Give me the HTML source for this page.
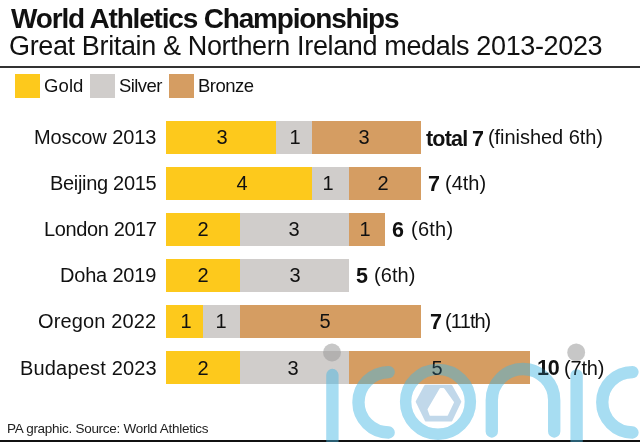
<!DOCTYPE html>
<html><head><meta charset="utf-8">
<style>
html,body{margin:0;padding:0;background:#fff;}
body{width:640px;height:442px;position:relative;overflow:hidden;font-family:"Liberation Sans",sans-serif;color:#111;}
.t{position:absolute;white-space:nowrap;-webkit-font-smoothing:antialiased;will-change:transform;}
.r{position:absolute;}
</style></head><body>
<div class="r" style="left:0px;top:65.5px;width:640px;height:2px;background:#333"></div>
<div class="r" style="left:15px;top:74px;width:25px;height:24px;background:#fdc91c"></div>
<div class="r" style="left:90px;top:74px;width:25px;height:24px;background:#d0cdcb"></div>
<div class="r" style="left:169px;top:74px;width:25px;height:24px;background:#d59d62"></div>
<div class="r" style="left:166px;top:121px;width:110px;height:33px;background:#fdc91c"></div>
<div class="r" style="left:276px;top:121px;width:36px;height:33px;background:#d0cdcb"></div>
<div class="r" style="left:312px;top:121px;width:109px;height:33px;background:#d59d62"></div>
<div class="r" style="left:166px;top:167px;width:146px;height:33px;background:#fdc91c"></div>
<div class="r" style="left:312px;top:167px;width:37px;height:33px;background:#d0cdcb"></div>
<div class="r" style="left:349px;top:167px;width:72px;height:33px;background:#d59d62"></div>
<div class="r" style="left:166px;top:213px;width:74px;height:33px;background:#fdc91c"></div>
<div class="r" style="left:240px;top:213px;width:109px;height:33px;background:#d0cdcb"></div>
<div class="r" style="left:349px;top:213px;width:36px;height:33px;background:#d59d62"></div>
<div class="r" style="left:166px;top:259px;width:74px;height:33px;background:#fdc91c"></div>
<div class="r" style="left:240px;top:259px;width:109px;height:33px;background:#d0cdcb"></div>
<div class="r" style="left:166px;top:305px;width:37px;height:33px;background:#fdc91c"></div>
<div class="r" style="left:203px;top:305px;width:37px;height:33px;background:#d0cdcb"></div>
<div class="r" style="left:240px;top:305px;width:181px;height:33px;background:#d59d62"></div>
<div class="r" style="left:166px;top:351px;width:74px;height:33px;background:#fdc91c"></div>
<div class="r" style="left:240px;top:351px;width:109px;height:33px;background:#d0cdcb"></div>
<div class="r" style="left:349px;top:351px;width:181px;height:33px;background:#d59d62"></div>
<div class="r" style="left:0px;top:440px;width:640px;height:2px;background:#111"></div>
<svg width="640" height="442" style="position:absolute;left:0;top:0">
<g opacity="0.338" fill="none" stroke="rgb(70,183,228)" stroke-width="12.3" stroke-linecap="round"><path d="M332.4,375.0 L332.4,460"/><path d="M388.66,372.10 A30.2,30.2 0 1 0 388.66,432.50"/><path d="M491.8,431.5 L491.8,400.2 A31.2,31.2 0 0 1 554.20,400.20 L554.2,431.5"/><path d="M576.6,375.4 L576.6,460"/><path d="M632.46,372.10 A30.2,30.2 0 1 0 632.46,432.50"/><circle cx="438" cy="401.8" r="32.4" stroke-width="11.4"/></g>
<g opacity="0.45"><path d="M417.20,401.70 L425.60,386.30 L451.00,386.30 L459.80,401.70 L451.00,420.00 L426.20,420.00 Z" fill="rgb(120,170,210)" stroke="rgb(120,170,210)" stroke-width="3" stroke-linejoin="round"/></g>
<path d="M440.50,389.00 L443.50,389.00 L453.00,402.30 L447.00,414.80 L430.50,414.80 L428.50,409.50 Z" fill="#fff" stroke="#fff" stroke-width="2" stroke-linejoin="round"/>
<circle cx="332" cy="352.5" r="8.9" fill="rgb(157,157,157)" fill-opacity="0.45"/>
<circle cx="576.2" cy="352.4" r="8.9" fill="rgb(157,157,157)" fill-opacity="0.45"/>
</svg>
<div class="t" style="top:1.39px;font-size:28px;line-height:36px;font-weight:bold;letter-spacing:-1.18px;left:10.90px;">World Athletics Championships</div>
<div class="t" style="top:29.34px;font-size:27px;line-height:35px;letter-spacing:-0.36px;left:8.85px;">Great Britain &amp; Northern Ireland medals 2013-2023</div>
<div class="t" style="top:73.69px;font-size:18.5px;line-height:24px;letter-spacing:0.1px;left:43.60px;">Gold</div>
<div class="t" style="top:73.69px;font-size:18.5px;line-height:24px;letter-spacing:-0.58px;left:119.40px;">Silver</div>
<div class="t" style="top:73.69px;font-size:18.5px;line-height:24px;letter-spacing:-0.5px;left:198.10px;">Bronze</div>
<div class="t" style="top:123.67px;font-size:20px;line-height:26px;letter-spacing:-0.11px;right:483.60px;">Moscow 2013</div>
<div class="t" style="top:123.67px;font-size:20px;line-height:26px;left:192.20px;width:60px;text-align:center;">3</div>
<div class="t" style="top:123.67px;font-size:20px;line-height:26px;left:265.30px;width:60px;text-align:center;">1</div>
<div class="t" style="top:123.67px;font-size:20px;line-height:26px;left:333.60px;width:60px;text-align:center;">3</div>
<div class="t" style="top:125.15px;font-size:21.5px;line-height:28px;font-weight:bold;letter-spacing:-0.8px;left:426.00px;">total</div>
<div class="t" style="top:125.15px;font-size:21.5px;line-height:28px;font-weight:bold;left:471.50px;">7</div>
<div class="t" style="top:123.67px;font-size:20px;line-height:26px;letter-spacing:-0.05px;left:487.50px;">(finished 6th)</div>
<div class="t" style="top:169.84px;font-size:20px;line-height:26px;letter-spacing:-0.31px;right:483.60px;">Beijing 2015</div>
<div class="t" style="top:169.84px;font-size:20px;line-height:26px;left:211.60px;width:60px;text-align:center;">4</div>
<div class="t" style="top:169.84px;font-size:20px;line-height:26px;left:298.25px;width:60px;text-align:center;">1</div>
<div class="t" style="top:169.84px;font-size:20px;line-height:26px;left:353.40px;width:60px;text-align:center;">2</div>
<div class="t" style="top:170.32px;font-size:21.5px;line-height:28px;font-weight:bold;left:427.60px;">7</div>
<div class="t" style="top:169.84px;font-size:20px;line-height:26px;left:445.35px;">(4th)</div>
<div class="t" style="top:216.01px;font-size:20px;line-height:26px;letter-spacing:-0.38px;right:483.60px;">London 2017</div>
<div class="t" style="top:216.01px;font-size:20px;line-height:26px;left:172.50px;width:60px;text-align:center;">2</div>
<div class="t" style="top:216.01px;font-size:20px;line-height:26px;left:264.20px;width:60px;text-align:center;">3</div>
<div class="t" style="top:216.01px;font-size:20px;line-height:26px;left:334.70px;width:60px;text-align:center;">1</div>
<div class="t" style="top:216.49px;font-size:21.5px;line-height:28px;font-weight:bold;left:391.60px;">6</div>
<div class="t" style="top:216.01px;font-size:20px;line-height:26px;letter-spacing:0.25px;left:410.70px;">(6th)</div>
<div class="t" style="top:262.18px;font-size:20px;line-height:26px;letter-spacing:-0.19px;right:483.60px;">Doha 2019</div>
<div class="t" style="top:262.18px;font-size:20px;line-height:26px;left:172.50px;width:60px;text-align:center;">2</div>
<div class="t" style="top:262.18px;font-size:20px;line-height:26px;left:264.50px;width:60px;text-align:center;">3</div>
<div class="t" style="top:261.66px;font-size:21.5px;line-height:28px;font-weight:bold;left:356.00px;">5</div>
<div class="t" style="top:262.18px;font-size:20px;line-height:26px;letter-spacing:0.08px;left:373.90px;">(6th)</div>
<div class="t" style="top:308.35px;font-size:20px;line-height:26px;letter-spacing:0.13px;right:483.60px;">Oregon 2022</div>
<div class="t" style="top:308.35px;font-size:20px;line-height:26px;left:155.90px;width:60px;text-align:center;">1</div>
<div class="t" style="top:308.35px;font-size:20px;line-height:26px;left:190.70px;width:60px;text-align:center;">1</div>
<div class="t" style="top:308.35px;font-size:20px;line-height:26px;left:295.35px;width:60px;text-align:center;">5</div>
<div class="t" style="top:307.83px;font-size:21.5px;line-height:28px;font-weight:bold;left:430.35px;">7</div>
<div class="t" style="top:308.35px;font-size:20px;line-height:26px;letter-spacing:-1.0px;left:445.45px;">(<span style="letter-spacing:-2.0px">1</span>1th)</div>
<div class="t" style="top:354.52px;font-size:20px;line-height:26px;letter-spacing:0.175px;right:483.60px;">Budapest 2023</div>
<div class="t" style="top:354.52px;font-size:20px;line-height:26px;left:173.00px;width:60px;text-align:center;">2</div>
<div class="t" style="top:354.52px;font-size:20px;line-height:26px;left:262.70px;width:60px;text-align:center;">3</div>
<div class="t" style="top:354.52px;font-size:20px;line-height:26px;left:407.40px;width:60px;text-align:center;">5</div>
<div class="t" style="top:354.00px;font-size:21.5px;line-height:28px;font-weight:bold;letter-spacing:-1.2px;left:536.50px;">10</div>
<div class="t" style="top:354.52px;font-size:20px;line-height:26px;letter-spacing:-0.2px;left:563.50px;">(7th)</div>
<div class="t" style="top:419.82px;font-size:13.5px;line-height:18px;letter-spacing:-0.28px;color:#222;left:7.10px;">PA graphic. Source: World Athletics</div>
<svg width="640" height="442" style="position:absolute;left:0;top:0">
<g opacity="0.2" fill="none" stroke="rgb(70,183,228)" stroke-width="12.3" stroke-linecap="round"><path d="M332.4,375.0 L332.4,460"/><path d="M388.66,372.10 A30.2,30.2 0 1 0 388.66,432.50"/><path d="M491.8,431.5 L491.8,400.2 A31.2,31.2 0 0 1 554.20,400.20 L554.2,431.5"/><path d="M576.6,375.4 L576.6,460"/><path d="M632.46,372.10 A30.2,30.2 0 1 0 632.46,432.50"/><circle cx="438" cy="401.8" r="32.4" stroke-width="11.4"/></g>

<circle cx="332" cy="352.5" r="8.9" fill="rgb(157,157,157)" fill-opacity="0.2"/>
<circle cx="576.2" cy="352.4" r="8.9" fill="rgb(157,157,157)" fill-opacity="0.2"/>
</svg>
</body></html>
